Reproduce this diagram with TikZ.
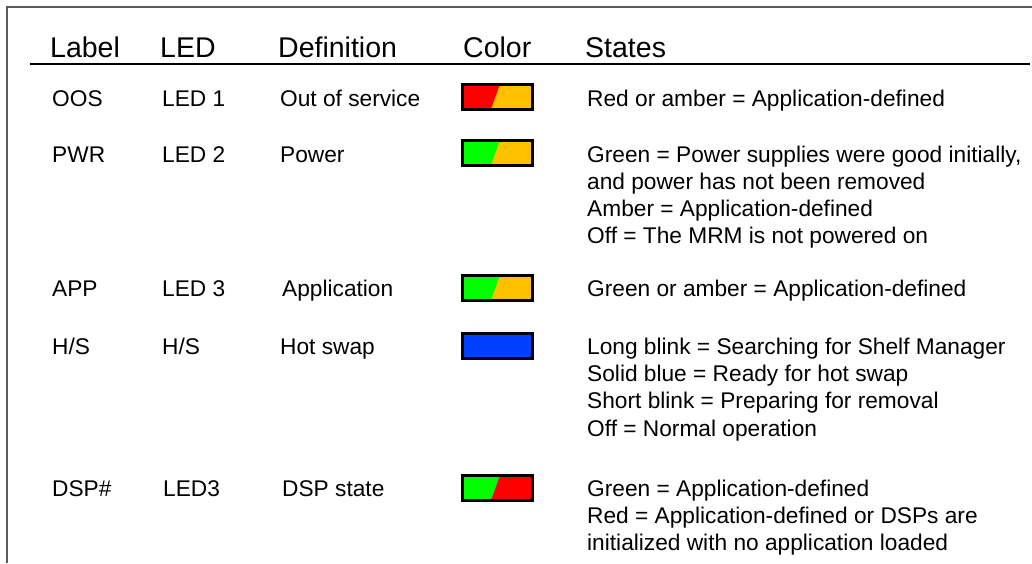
\documentclass[tikz,border=0pt]{standalone}
\usepackage{fontspec}
\setmainfont{Liberation Sans}
\definecolor{ledred}{RGB}{255,0,0}
\definecolor{ledamber}{RGB}{255,192,0}
\definecolor{ledgreen}{RGB}{0,255,0}
\definecolor{ledblue}{RGB}{0,64,255}
\definecolor{framegray}{RGB}{90,90,90}
\tikzset{
  head/.style={anchor=base west, inner sep=0pt, font=\fontsize{28.5}{34}\selectfont},
  cell/.style={anchor=base west, inner sep=0pt, font=\fontsize{22.7}{27}\selectfont},
  pics/ledbox/.style 2 args={code={
    \fill[#2] (0,0) rectangle (70,25);
    \fill[#1] (0,0) -- (38,0) -- (29,25) -- (0,25) -- cycle;
    \draw[line width=3pt] (0,0) rectangle (70,25);
  }},
  pics/ledsolid/.style={code={
    \fill[#1] (0,0) rectangle (70,25);
    \draw[line width=3pt] (0,0) rectangle (70,25);
  }}
}
\begin{document}
\begin{tikzpicture}[x=1pt,y=-1pt]
\useasboundingbox (0,0) rectangle (1032,563);
% frame (open on the right and at the bottom)
\draw[framegray, line width=1.3pt] (7,563) -- (7,7) -- (1032,7);

% column heads
\node[head] (hlabel) at (50,57) {Label};
\node[head] (hled) at (160,57) {LED};
\node[head] (hdef) at (278,57) {Definition};
\node[head] (hcolor) at (463,57) {Color};
\node[head] (hstates) at (585,57) {States};
\coordinate (rulel) at (30,64);
\coordinate (ruler) at (1030,64);
\draw[line width=2.5pt] (rulel) -- (ruler);

% OOS
\node[cell] (l1) at (52,106) {OOS};
\node[cell] (d1) at (162,106) {LED 1};
\node[cell] (f1) at (280,106) {Out of service};
\pic at (462,84) {ledbox={ledred}{ledamber}};
\node[cell] (s1) at (587,106) {Red or amber = Application-defined};

% PWR
\node[cell] (l2) at (52,162) {PWR};
\node[cell] (d2) at (162,162) {LED 2};
\node[cell] (f2) at (280,162) {Power};
\pic at (462,140) {ledbox={ledgreen}{ledamber}};
\node[cell] (s2a) at (587,162) {Green = Power supplies were good initially,};
\node[cell] (s2b) at (587,189) {and power has not been removed};
\node[cell] (s2c) at (587,216) {Amber = Application-defined};
\node[cell] (s2d) at (587,243) {Off = The MRM is not powered on};

% APP
\node[cell] (l3) at (52,296) {APP};
\node[cell] (d3) at (162,296) {LED 3};
\node[cell] (f3) at (282,296) {Application};
\pic at (462,275) {ledbox={ledgreen}{ledamber}};
\node[cell] (s3) at (587,296) {Green or amber = Application-defined};

% H/S
\node[cell] (l4) at (52,354) {H/S};
\node[cell] (d4) at (162,354) {H/S};
\node[cell] (f4) at (280,354) {Hot swap};
\pic at (462,333) {ledsolid=ledblue};
\node[cell] (s4a) at (587,354) {Long blink = Searching for Shelf Manager};
\node[cell] (s4b) at (587,381) {Solid blue = Ready for hot swap};
\node[cell] (s4c) at (587,408) {Short blink = Preparing for removal};
\node[cell] (s4d) at (587,436) {Off = Normal operation};

% DSP#
\node[cell] (l5) at (52,496) {DSP\#};
\node[cell] (d5) at (163,496) {LED3};
\node[cell] (f5) at (282,496) {DSP state};
\pic at (462,475) {ledbox={ledgreen}{ledred}};
\node[cell] (s5a) at (587,496) {Green = Application-defined};
\node[cell] (s5b) at (587,523) {Red = Application-defined or DSPs are};
\node[cell] (s5c) at (587,550) {initialized with no application loaded};
\end{tikzpicture}
\end{document}
